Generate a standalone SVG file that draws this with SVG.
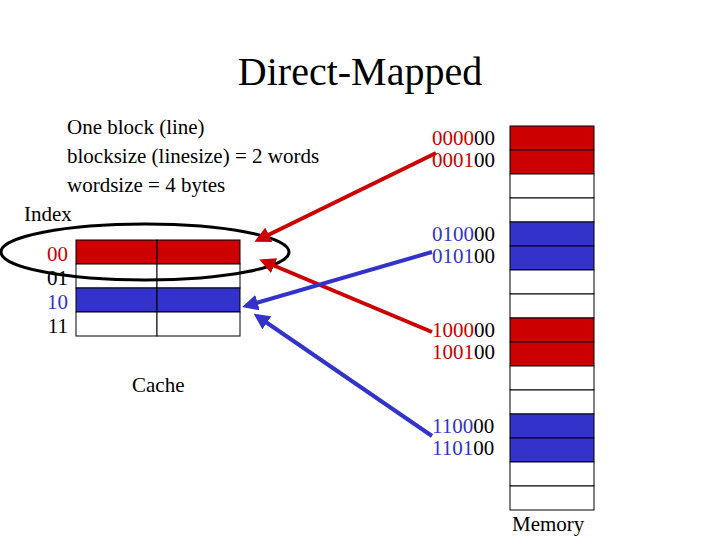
<svg xmlns="http://www.w3.org/2000/svg" width="720" height="540" viewBox="0 0 720 540">
<style>
text{font-family:"Liberation Serif",serif;fill:#000}
.r{fill:#cc0000}.b{fill:#3333cc}.w{fill:#fff}
rect{stroke:#000;stroke-width:1}
.t{font-size:21px}
</style>
<defs>
<marker id="ar" markerWidth="4" markerHeight="4" refX="3" refY="2" orient="auto" markerUnits="strokeWidth"><path d="M0,0L4,2L0,4z" fill="#cc0000"/></marker>
<marker id="ab" markerWidth="4" markerHeight="4" refX="3" refY="2" orient="auto" markerUnits="strokeWidth"><path d="M0,0L4,2L0,4z" fill="#3333cc"/></marker>
</defs>
<text x="360" y="85" font-size="40" text-anchor="middle">Direct-Mapped</text>
<g id="info" class="t">
<text x="67" y="134">One block (line)</text>
<text x="67" y="163">blocksize (linesize) = 2 words</text>
<text x="67" y="192">wordsize = 4 bytes</text>
<text x="24" y="221">Index</text>
</g>
<g id="cache">
<rect class="r" x="76" y="240" width="81" height="24"/><rect class="r" x="157" y="240" width="83" height="24"/>
<rect class="w" x="76" y="264" width="81" height="24"/><rect class="w" x="157" y="264" width="83" height="24"/>
<rect class="b" x="76" y="288" width="81" height="24"/><rect class="b" x="157" y="288" width="83" height="24"/>
<rect class="w" x="76" y="312" width="81" height="24"/><rect class="w" x="157" y="312" width="83" height="24"/>
<g class="t" text-anchor="end">
<text x="68" y="261" class="r">00</text><text x="68" y="285">01</text><text x="68" y="309" class="b">10</text><text x="68" y="333">11</text>
</g>
<text x="132" y="392" class="t">Cache</text>
<ellipse cx="145" cy="252" rx="144" ry="28" fill="none" stroke="#000" stroke-width="3"/>
</g>
<g id="memory">
<rect class="r" x="510" y="126" width="84" height="24"/><rect class="r" x="510" y="150" width="84" height="24"/>
<rect class="w" x="510" y="174" width="84" height="24"/><rect class="w" x="510" y="198" width="84" height="24"/>
<rect class="b" x="510" y="222" width="84" height="24"/><rect class="b" x="510" y="246" width="84" height="24"/>
<rect class="w" x="510" y="270" width="84" height="24"/><rect class="w" x="510" y="294" width="84" height="24"/>
<rect class="r" x="510" y="318" width="84" height="24"/><rect class="r" x="510" y="342" width="84" height="24"/>
<rect class="w" x="510" y="366" width="84" height="24"/><rect class="w" x="510" y="390" width="84" height="24"/>
<rect class="b" x="510" y="414" width="84" height="24"/><rect class="b" x="510" y="438" width="84" height="24"/>
<rect class="w" x="510" y="462" width="84" height="24"/><rect class="w" x="510" y="486" width="84" height="24"/>
<text x="512" y="531" class="t">Memory</text>
<g class="t">
<text x="432" y="145"><tspan class="r">0000</tspan>00</text>
<text x="432" y="167"><tspan class="r">0001</tspan>00</text>
<text x="432" y="241"><tspan class="b">0100</tspan>00</text>
<text x="432" y="263"><tspan class="b">0101</tspan>00</text>
<text x="432" y="337"><tspan class="r">1000</tspan>00</text>
<text x="432" y="359"><tspan class="r">1001</tspan>00</text>
<text x="432" y="433"><tspan class="b">1100</tspan>00</text>
<text x="432" y="455"><tspan class="b">1101</tspan>00</text>
</g>
</g>
<g id="connectors" stroke-width="4" fill="none">
<line x1="436" y1="153" x2="258" y2="240" stroke="#cc0000" marker-end="url(#ar)"/>
<line x1="432" y1="332" x2="263" y2="261" stroke="#cc0000" marker-end="url(#ar)"/>
<line x1="432" y1="252" x2="246" y2="306" stroke="#3333cc" marker-end="url(#ab)"/>
<line x1="432" y1="436" x2="257" y2="316" stroke="#3333cc" marker-end="url(#ab)"/>
</g>
</svg>
